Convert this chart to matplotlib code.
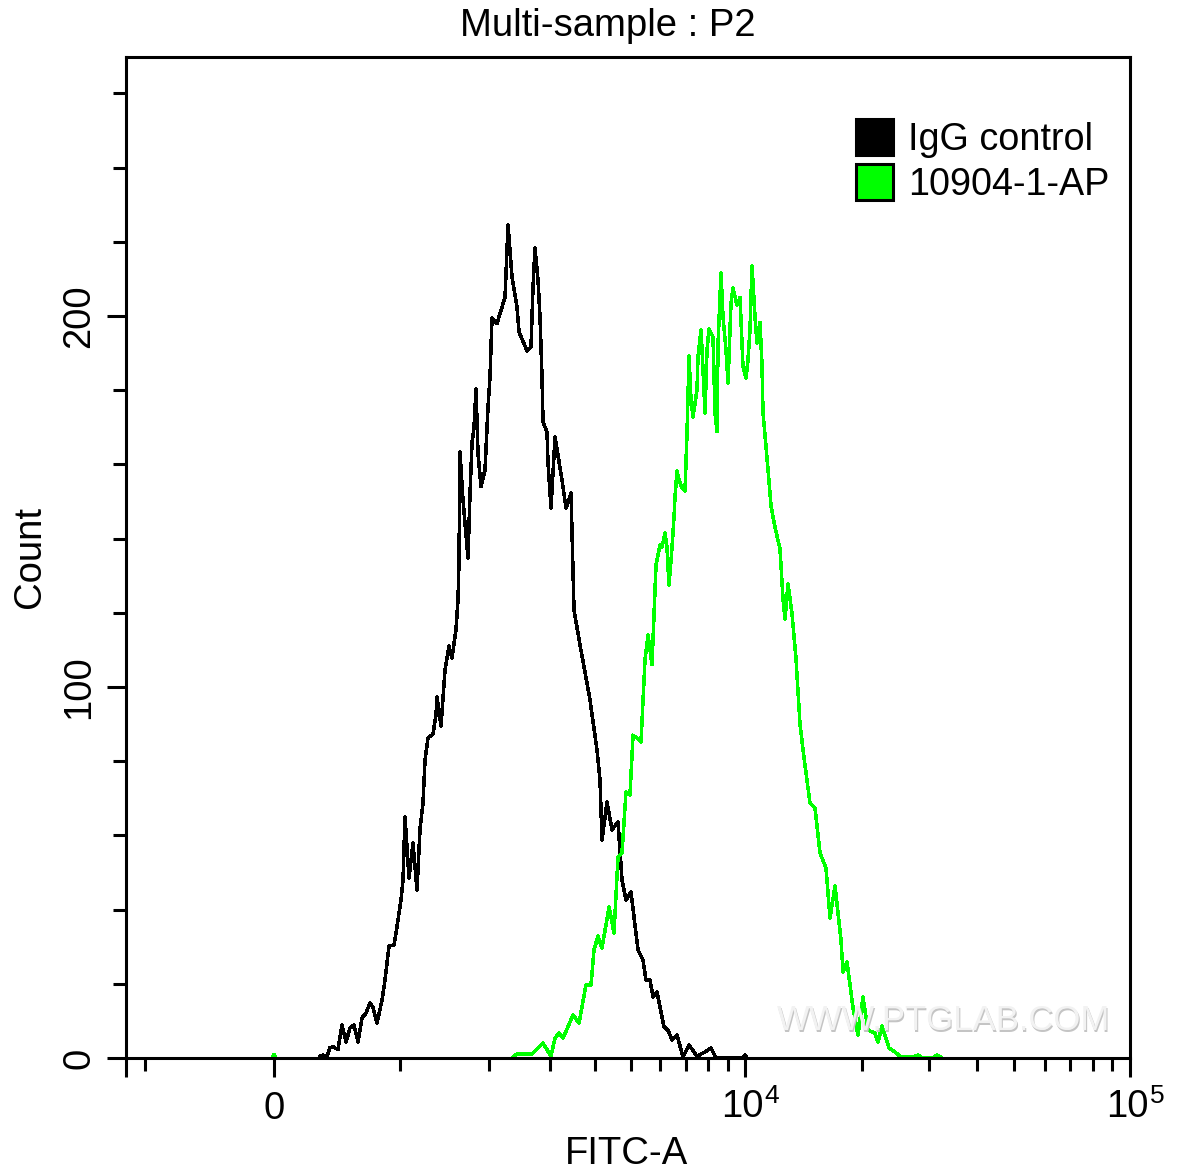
import numpy as np
from matplotlib import pyplot as plt
from matplotlib.patches import Patch

plt.rcParams['font.family'] = ['Liberation Sans', 'DejaVu Sans']

# Histogram traces, display channel vs count
igg_channel = [194, 197, 201, 204, 207, 212, 216, 220, 224, 228, 232, 236, 240, 244, 247, 251, 256, 259, 263, 268,
               271, 275, 277, 279, 283, 287, 291, 294, 297, 299, 302, 307, 310, 311, 315, 319, 323, 326, 330, 332,
               333, 334, 337, 342, 344, 346, 348, 350, 352, 355, 359, 362, 364, 366, 371, 379, 382, 386, 391, 393,
               401, 405, 407, 409, 412, 414, 416, 417, 421, 422, 425, 429, 436, 440, 445, 448, 454, 459, 464, 471,
               474, 476, 481, 486, 492, 496, 500, 505, 512, 517, 520, 524, 527, 531, 534, 538, 542, 546, 551, 557,
               563, 571, 579, 585, 590, 616, 619, 621]
igg_count = [0.5, 0.8, 0.3, 2.8, 3.0, 2.3, 8.9, 4.3, 8.1, 8.9, 4.3, 10.8, 12.1, 14.8, 13.7, 9.4, 15.6, 21, 30.2, 30.5,
             35.4, 42.7, 48.0, 65.0, 48.5, 57.9, 45.2, 61.7, 68.7, 80.3, 86.3, 87.3, 92.5, 97.3, 89.5, 104.6, 111, 107.8, 115.5, 123.5,
             134, 163.3, 150.4, 134.8, 152, 165.8, 170, 180.3, 163, 154, 158.5, 175.5, 183.6, 199.5, 198, 205, 224.5, 210.5, 202.4, 195.7,
             190.6, 191.6, 207.8, 218.3, 209.7, 199.7, 183.6, 171.4, 168.7, 160.4, 148.2, 167.4, 155.8, 148.2, 152.3, 120.8, 111.3, 104, 96.5, 83,
             75, 58.8, 69, 61.5, 63.6, 48, 42.6, 44.7, 29.1, 26.4, 21, 21, 16.4, 17.8, 13.7, 8.4, 7.5, 4.9, 6.2, 0.3,
             3.5, 0.5, 1.6, 2.7, 0, 0, 0.8, 0]

ab_channel = [146, 148, 150, np.nan,
              387, 391, 406, 417, 425, 429, 433, 437, 441, 447, 453, 460, 465, 468, 472, 476, 483, 488, 492, 496,
              500, 504, 507, 511, 515, 519, 522, 526, 530, 534, 536, 539, 541, 543, 546, 548, 549, 551, 553, 556,
              559, 561, 562, 563, 565, 567, 571, 572, 575, 577, 579, 581, 583, 587, 589, 591, 592, 595, 597, 600,
              602, 605, 607, 611, 614, 617, 620, 622, 624, 626, 629, 631, 634, 636, 637, 640, 642, 645, 648, 651,
              654, 657, 659, 662, 666, 670, 674, 678, 684, 689, 694, 700, 704, 709, 715, 717, 721, 727, 732, 737,
              742, 749, 752, 756, 763, 769, 775, 787, 792, 796, 807, 811, 816]
ab_count = [0, 0.9, 0, np.nan,
            0.3, 1.1, 1.1, 4, 0.5, 5.4, 6.7, 5.4, 7.8, 11.6, 9.4, 19.7, 19.7, 29.1, 32.9, 29.6, 40.7, 33.7, 54.2, 55.3,
            71.7, 70.9, 87, 86.3, 85.2, 107.3, 114, 106, 132.9, 138.3, 137.7, 141.5, 137.5, 127.5, 137.5, 145.8, 151.2, 158.2, 155.8, 153.6,
            152.8, 168.5, 178.2, 189.2, 177.4, 172.8, 180.1, 189, 196.3, 185.5, 173.9, 190.8, 196.5, 194.3, 173.9, 168.8, 192.3, 211.6, 199.7, 190.8,
            181.9, 203.5, 207.5, 202.9, 205, 186.3, 183.3, 188.2, 196.3, 213.5, 199.7, 192.7, 198.3, 186.7, 173.9, 164.8, 158.6, 148.8, 144.4, 140.7,
            137.2, 123.7, 118.3, 127.8, 119.7, 107.6, 90, 80.9, 68.7, 67.4, 55.3, 51.2, 37.7, 46.4, 31.8, 23.2, 25.9, 13.5, 6.2, 16.4,
            7.5, 6.7, 4.3, 8.6, 2.7, 1.6, 0.3, 0.3, 0.8, 0, 0, 0.8, 0]

# Biexponential axis: ticks given as display channels
x_major = [0, 148, 619, 1004]
x_major_labels = ['', '0', '', '']
x_minor = [19, 274, 363, 424, 469, 505, 534, 560, 582, 602, 736, 803, 851, 888, 919, 944, 967, 986]
y_major = [0, 100, 200]
y_minor = [20, 40, 60, 80, 120, 140, 160, 180, 220, 240, 260]

fs = 27.5
fig = plt.figure(figsize=(11.78, 11.75), dpi=100)
ax = fig.add_axes([126 / 1178, 1 - 1058 / 1175, 1004 / 1178, 1001 / 1175])

ax.plot(igg_channel, igg_count, color='black', lw=1.8, antialiased=False)
ax.plot(ab_channel, ab_count, color='#00ff00', lw=1.8, antialiased=False)

ax.set_xlim(0, 1004)
ax.set_ylim(0, 269.8)
for s in ax.spines.values():
    s.set_linewidth(2.2)

ax.set_xticks(x_major)
ax.set_xticklabels(x_major_labels, fontsize=fs)
ax.set_xticks(x_minor, minor=True)
ax.set_yticks(y_major)
ax.set_yticklabels(['0', '100', '200'], fontsize=fs, rotation=90, va='center')
ax.set_yticks(y_minor, minor=True)
ax.tick_params(which='major', length=13.5, width=2.2, pad=7)
ax.tick_params(axis='x', which='major', pad=10)
ax.tick_params(which='minor', length=9.5, width=2.2)

# decade labels, exponent set apart like the cytometer software does
for pos, exp in [(619, '4'), (1004, '5')]:
    ax.annotate('10', xy=(pos, 0), xycoords=('data', 'axes fraction'), xytext=(-2.2, -35),
                textcoords='offset points', fontsize=fs, ha='center', va='center')
    ax.annotate(exp, xy=(pos, 0), xycoords=('data', 'axes fraction'), xytext=(19.5, -27.5),
                textcoords='offset points', fontsize=19, ha='center', va='center')

fig.text(608 / 1178, 1 - 26 / 1175, 'Multi-sample : P2', fontsize=fs, ha='center', va='center')
fig.text(627 / 1178, 1 - 1154 / 1175, 'FITC-A', fontsize=fs, ha='center', va='center')
fig.text(30 / 1178, 1 - 557 / 1175, 'Count', fontsize=fs, rotation=90, ha='center', va='center')

# watermark, light bevel
fig.text(945 / 1178, 1 - 1022 / 1175, 'WWW.PTGLAB.COM', fontsize=25, color='#c4c4c4',
         ha='center', va='center')
fig.text(944 / 1178, 1 - 1021 / 1175, 'WWW.PTGLAB.COM', fontsize=25, color='#f2f2f2',
         ha='center', va='center')

handles = [Patch(facecolor='black', edgecolor='black', linewidth=2.2, label='IgG control'),
           Patch(facecolor='#00ff00', edgecolor='black', linewidth=2.2, label='10904-1-AP')]
ax.legend(handles=handles, loc='upper left', bbox_to_anchor=(855.5 / 1178, 1 - 119.5 / 1175),
          bbox_transform=fig.transFigure, frameon=False, fontsize=27.2, handlelength=0.98, handleheight=1.08,
          handletextpad=0.42, labelspacing=0.16, borderpad=0, borderaxespad=0)

fig.savefig('out.png', dpi=100)
